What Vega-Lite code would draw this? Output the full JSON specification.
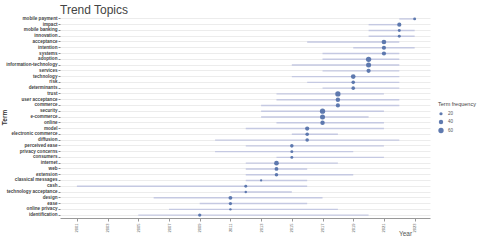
{
  "$schema": "https://vega.github.io/schema/vega-lite/v6.json",
  "width": 370,
  "height": 202,
  "autosize": "none",
  "padding": {"left": 60, "top": 16, "right": 50, "bottom": 22},
  "background": "white",
  "title": {"text": "Trend Topics", "anchor": "start", "frame": "group", "fontSize": 12, "fontWeight": "normal", "color": "#444", "font": "Liberation Sans", "offset": 4, "dy": 6},
  "data": {"values": [
    {"term": "mobile payment", "q1": 2022, "year": 2023, "q3": 2023, "freq": 16},
    {"term": "impact", "q1": 2020, "year": 2022, "q3": 2022, "freq": 36},
    {"term": "mobile banking", "q1": 2020, "year": 2022, "q3": 2023, "freq": 16},
    {"term": "innovation", "q1": 2020, "year": 2022, "q3": 2023, "freq": 16},
    {"term": "acceptance", "q1": 2016, "year": 2021, "q3": 2022, "freq": 46},
    {"term": "intention", "q1": 2019, "year": 2021, "q3": 2023, "freq": 36},
    {"term": "systems", "q1": 2017, "year": 2021, "q3": 2022, "freq": 36},
    {"term": "adoption", "q1": 2017, "year": 2020, "q3": 2022, "freq": 60},
    {"term": "information-technology", "q1": 2015, "year": 2020, "q3": 2022, "freq": 54},
    {"term": "services", "q1": 2017, "year": 2020, "q3": 2022, "freq": 36},
    {"term": "technology", "q1": 2015, "year": 2019, "q3": 2022, "freq": 46},
    {"term": "risk", "q1": 2016, "year": 2019, "q3": 2022, "freq": 25},
    {"term": "determinants", "q1": 2017, "year": 2019, "q3": 2022, "freq": 25},
    {"term": "trust", "q1": 2014, "year": 2018, "q3": 2021, "freq": 60},
    {"term": "user acceptance", "q1": 2014, "year": 2018, "q3": 2022, "freq": 41},
    {"term": "commerce", "q1": 2013, "year": 2018, "q3": 2022, "freq": 36},
    {"term": "security", "q1": 2013, "year": 2017, "q3": 2021, "freq": 60},
    {"term": "e-commerce", "q1": 2013, "year": 2017, "q3": 2020, "freq": 54},
    {"term": "online", "q1": 2014, "year": 2017, "q3": 2021, "freq": 41},
    {"term": "model", "q1": 2012, "year": 2016, "q3": 2021, "freq": 36},
    {"term": "electronic commerce", "q1": 2015, "year": 2016, "q3": 2018, "freq": 25},
    {"term": "diffusion", "q1": 2010, "year": 2016, "q3": 2022, "freq": 25},
    {"term": "perceived ease", "q1": 2012, "year": 2015, "q3": 2021, "freq": 25},
    {"term": "privacy concerns", "q1": 2010, "year": 2015, "q3": 2019, "freq": 16},
    {"term": "consumers", "q1": 2014, "year": 2015, "q3": 2021, "freq": 16},
    {"term": "internet", "q1": 2012, "year": 2014, "q3": 2018, "freq": 46},
    {"term": "web", "q1": 2012, "year": 2014, "q3": 2016, "freq": 30},
    {"term": "extension", "q1": 2012, "year": 2014, "q3": 2019, "freq": 25},
    {"term": "classical messages", "q1": 2012, "year": 2013, "q3": 2016, "freq": 8},
    {"term": "cash", "q1": 2001, "year": 2012, "q3": 2016, "freq": 16},
    {"term": "technology acceptance", "q1": 2011, "year": 2012, "q3": 2015, "freq": 10},
    {"term": "design", "q1": 2006, "year": 2011, "q3": 2017, "freq": 30},
    {"term": "ease", "q1": 2009, "year": 2011, "q3": 2016, "freq": 21},
    {"term": "online privacy", "q1": 2007, "year": 2011, "q3": 2018, "freq": 9},
    {"term": "identification", "q1": 2005, "year": 2009, "q3": 2020, "freq": 21}
  ]},
  "encoding": {
    "y": {"field": "term", "type": "nominal", "sort": null, "title": "Term",
      "axis": {"domain": false, "ticks": true, "tickSize": 2, "tickColor": "#888", "grid": true, "gridColor": "#ececec", "gridWidth": 1,
        "labelFontSize": 4.6, "labelColor": "#444", "labelFontWeight": "bold", "labelFont": "Liberation Sans", "labelPadding": 1,
        "titleFontSize": 6.5, "titleColor": "#333", "titleFont": "Liberation Sans", "titleFontWeight": "bold", "titleX": -53, "titleY": 101, "titleAlign": "center"}}
  },
  "layer": [
    {"mark": {"type": "rule", "color": "#c5c9e2", "strokeWidth": 1.4},
     "encoding": {"x": {"field": "q1", "type": "quantitative", "scale": {"domain": [1999.9, 2024], "nice": false, "zero": false}, "title": "Year",
        "axis": {"values": [2001, 2003, 2005, 2007, 2009, 2011, 2013, 2015, 2017, 2019, 2021, 2023], "format": "d", "labelOverlap": false}},
       "x2": {"field": "q3"}}},
    {"mark": {"type": "circle", "color": "#5673ab", "opacity": 0.95},
     "encoding": {"x": {"field": "year", "type": "quantitative", "axis": {"values": [2001, 2003, 2005, 2007, 2009, 2011, 2013, 2015, 2017, 2019, 2021, 2023], "format": "d", "labelOverlap": false}},
       "size": {"field": "freq", "type": "quantitative", "title": "Term frequency", "scale": {"domain": [10, 60], "range": [6, 28], "zero": false},
         "legend": {"orient": "none", "legendX": 378, "legendY": 86, "values": [20, 40, 60], "format": "d", "titleFontSize": 5.5, "titleColor": "#444", "titleFont": "Liberation Sans", "titleFontWeight": "normal",
           "labelFontSize": 4.5, "labelColor": "#555", "labelFont": "Liberation Sans", "symbolFillColor": "#5673ab", "symbolStrokeWidth": 0, "symbolOpacity": 0.95, "rowPadding": 3, "titlePadding": 4}}}}
  ],
  "config": {
    "view": {"stroke": null},
    "axisX": {"labelAngle": -90, "labelOverlap": false, "labelFontSize": 4, "labelColor": "#555", "labelFont": "Liberation Sans", "labelPadding": 2,
      "grid": false, "domain": true, "domainColor": "#999", "tickColor": "#999", "tickSize": 3,
      "titleFontSize": 6.5, "titleColor": "#555", "titleFont": "Liberation Sans", "titleFontWeight": "normal", "titleX": 345, "titleY": 17, "titleBaseline": "alphabetic"}
  }
}
